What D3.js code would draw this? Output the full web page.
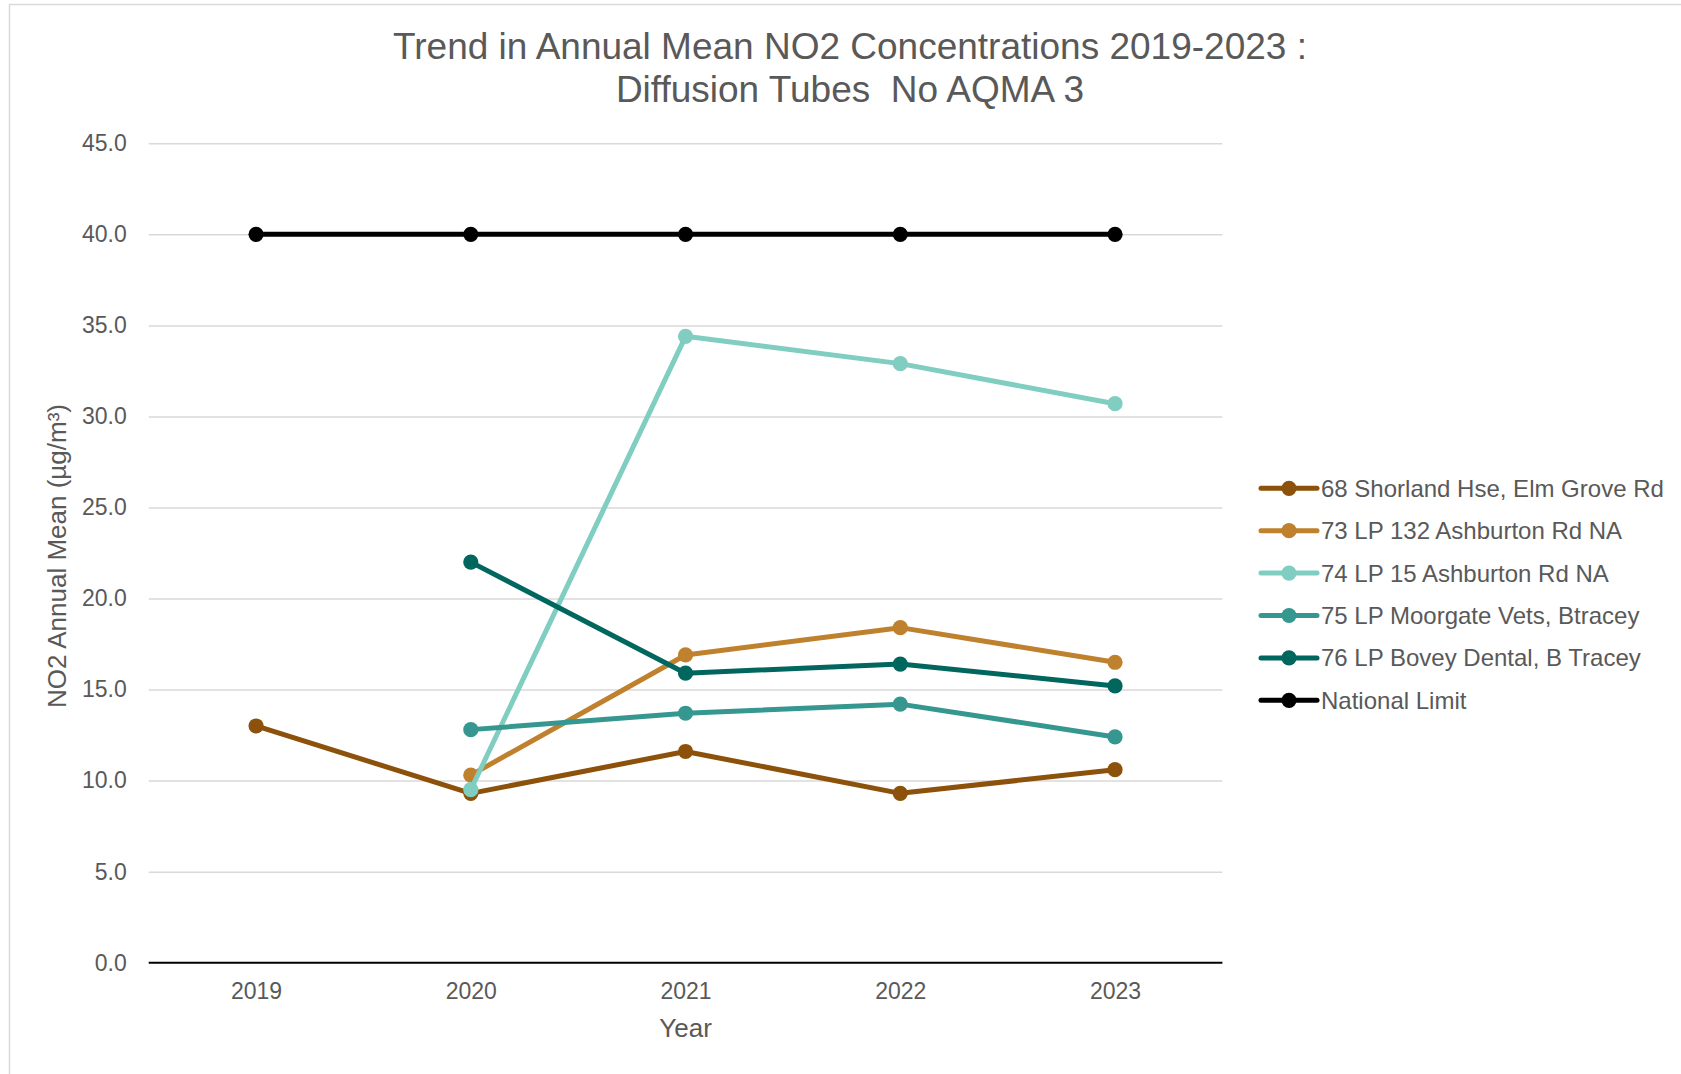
<!DOCTYPE html>
<html>
<head>
<meta charset="utf-8">
<script src="https://cdn.jsdelivr.net/npm/d3@7"></script>
<style>
  html, body { margin: 0; padding: 0; background: #fff; }
  svg { display: block; }
  text { font-family: "Liberation Sans", Arial, sans-serif; fill: #595959; }
</style>
</head>
<body>
<svg id="chart" width="1681" height="1074"></svg>
<script>
// Annual mean NO2 at diffusion tube sites, 2019-2023 (µg/m³)
const years = ["2019", "2020", "2021", "2022", "2023"];
const yTicks = [0, 5, 10, 15, 20, 25, 30, 35, 40, 45];

const seriesNames = [
  "68 Shorland Hse, Elm Grove Rd",
  "73 LP 132 Ashburton Rd NA",
  "74 LP 15 Ashburton Rd NA",
  "75 LP Moorgate Vets, Btracey",
  "76 LP Bovey Dental, B Tracey",
  "National Limit"
];
const shorland   = [13.0, 9.3, 11.6, 9.3, 10.6];
const ashburton132 = [null, 10.3, 16.9, 18.4, 16.5];
const ashburton15  = [null, 9.5, 34.4, 32.9, 30.7];
const moorgate   = [null, 12.8, 13.7, 14.2, 12.4];
const boveyDental = [null, 22.0, 15.9, 16.4, 15.2];
const nationalLimit = [40, 40, 40, 40, 40];
const seriesValues = [shorland, ashburton132, ashburton15, moorgate, boveyDental, nationalLimit];
const seriesColors = ["#8c510a", "#bf812d", "#80cdc1", "#35978f", "#01665e", "#000000"];

const svg = d3.select("#chart");

// chart frame
svg.append("rect")
  .attr("x", 9.5).attr("y", 4.5)
  .attr("width", 1720).attr("height", 1100)
  .attr("fill", "#fff")
  .attr("stroke", "#d9d9d9").attr("stroke-width", 1.5);

const plot = { left: 148.7, right: 1222.4, top: 143.3, bottom: 962.7 };

const x = d3.scalePoint().domain(years).range([plot.left, plot.right]).padding(0.5);
const y = d3.scaleLinear().domain([0, 45]).range([plot.bottom, plot.top]);

// gridlines + y tick labels
const yAxis = svg.append("g")
  .attr("transform", `translate(${plot.left},0)`)
  .call(d3.axisLeft(y).tickValues(yTicks).tickFormat(d3.format(".1f"))
    .tickSize(-(plot.right - plot.left)).tickPadding(22));
yAxis.select(".domain").remove();
yAxis.selectAll(".tick line")
  .attr("stroke", "#d9d9d9").attr("stroke-width", 1.5)
  .filter(d => d === 0).remove();
yAxis.selectAll(".tick text")
  .attr("font-size", 23).attr("fill", "#595959")
  .style("font-family", "'Liberation Sans', Arial, sans-serif");

// x axis
const xAxis = svg.append("g")
  .attr("transform", `translate(0,${plot.bottom})`)
  .call(d3.axisBottom(x).tickSize(0).tickPadding(20));
xAxis.select(".domain").remove();
xAxis.append("line")
  .attr("x1", plot.left).attr("x2", plot.right)
  .attr("stroke", "#000").attr("stroke-width", 2);
xAxis.selectAll(".tick text")
  .attr("font-size", 23).attr("fill", "#595959")
  .style("font-family", "'Liberation Sans', Arial, sans-serif");

// title
const title = svg.append("text")
  .attr("text-anchor", "middle").attr("font-size", 37);
title.append("tspan").attr("x", 850).attr("y", 59).text("Trend in Annual Mean NO2 Concentrations 2019-2023 :");
title.append("tspan").attr("x", 850).attr("y", 101.5).text("Diffusion Tubes\u00a0\u00a0No AQMA 3");

// axis titles
svg.append("text")
  .attr("x", (plot.left + plot.right) / 2).attr("y", 1037)
  .attr("text-anchor", "middle").attr("font-size", 26)
  .text("Year");
svg.append("text")
  .attr("transform", "translate(66,556) rotate(-90)")
  .attr("text-anchor", "middle").attr("font-size", 26)
  .text("NO2 Annual Mean (µg/m³)");

// series lines and markers
const line = d3.line()
  .defined(d => d.v !== null)
  .x(d => x(d.year))
  .y(d => y(d.v));

seriesValues.forEach((vals, i) => {
  const pts = years.map((yr, j) => ({ year: yr, v: vals[j] }));
  const g = svg.append("g");
  g.append("path")
    .datum(pts)
    .attr("d", line)
    .attr("fill", "none")
    .attr("stroke", seriesColors[i])
    .attr("stroke-width", 5)
    .attr("stroke-linejoin", "round")
    .attr("stroke-linecap", "round");
  g.selectAll("circle")
    .data(pts.filter(d => d.v !== null))
    .join("circle")
    .attr("cx", d => x(d.year))
    .attr("cy", d => y(d.v))
    .attr("r", 7.6)
    .attr("fill", seriesColors[i]);
});

// legend
const legend = svg.append("g");
const legendRowY = d3.scaleLinear().domain([0, 1]).range([488.3, 530.7]);
seriesNames.forEach((name, i) => {
  const gy = legendRowY(i);
  const row = legend.append("g").attr("transform", `translate(0,${gy})`);
  row.append("line")
    .attr("x1", 1261).attr("x2", 1317)
    .attr("stroke", seriesColors[i]).attr("stroke-width", 5)
    .attr("stroke-linecap", "round");
  row.append("circle")
    .attr("cx", 1289).attr("cy", 0).attr("r", 7.6)
    .attr("fill", seriesColors[i]);
  row.append("text")
    .attr("x", 1321).attr("y", 8.5)
    .attr("font-size", 24)
    .text(name);
});
</script>
</body>
</html>
